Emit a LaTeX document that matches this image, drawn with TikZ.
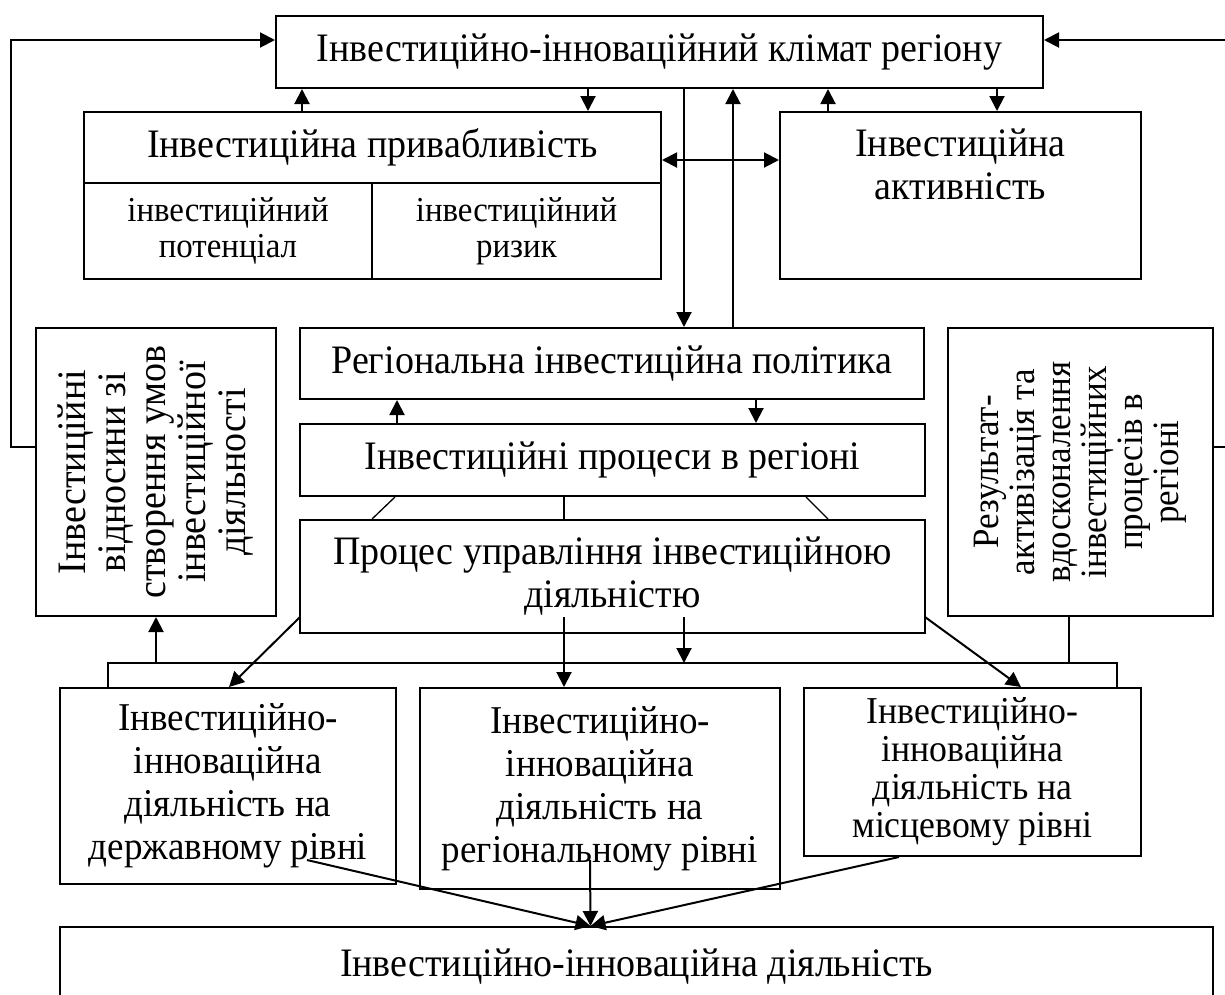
\documentclass[tikz,border=0pt]{standalone}
\usepackage{fontspec}
\setmainfont{Liberation Serif}[FakeStretch=0.94]
\usetikzlibrary{arrows.meta,calc}
\tikzset{
  box/.style={draw,line width=2pt,inner sep=0pt,align=center},
  bigtxt/.style={font=\fontsize{40.4}{43}\selectfont},
  smalltxt/.style={font=\fontsize{35}{36}\selectfont},
  lowtxt/.style={font=\fontsize{39.4}{43}\selectfont},
  vtxt/.style={rotate=90,align=center,inner sep=0pt},
  arr/.style={line width=2pt,-{Triangle[length=15pt,width=15pt]}},
  dblarr/.style={line width=2pt,{Triangle[length=15pt,width=15pt]}-{Triangle[length=15pt,width=15pt]}},
  link/.style={line width=1.3pt}
}
\begin{document}
\begin{tikzpicture}[x=1pt,y=-1pt]
    \useasboundingbox (0,0) rectangle (1225,994);
    % top
    \node[box,bigtxt,minimum width=767,minimum height=72] (clim) at (659.5,52) {Інвестиційно-інноваційний клімат регіону};
    \node[box,bigtxt,minimum width=577,minimum height=71] (attr) at (372.5,147.5) {Інвестиційна привабливість};
    \node[box,smalltxt,minimum width=288,minimum height=96] (pot) at (228,231) {інвестиційний\\потенціал};
    \node[box,smalltxt,minimum width=289,minimum height=96] (risk) at (516.5,231) {інвестиційний\\ризик};
    \node[box,minimum width=361,minimum height=167] (act) at (960.5,195.5) {};
    \node[bigtxt,align=center,inner sep=0pt,anchor=north] (acttxt) at ([yshift=-18]act.north) {Інвестиційна\\активність};
    % middle
    \node[box,bigtxt,minimum width=624,minimum height=71] (pol) at (612,363.5) {Регіональна інвестиційна політика};
    \node[box,bigtxt,minimum width=625,minimum height=72] (proc) at (612.5,460) {Інвестиційні процеси в регіоні};
    \node[box,bigtxt,minimum width=625,minimum height=113] (mgmt) at (612.5,576.5) {Процес управління інвестиційною\\діяльністю};
    \node[box,minimum width=240,minimum height=288] (rel) at (156,472) {};
    \node[vtxt,font=\fontsize{40.4}{40}\selectfont] (reltxt) at (rel) {Інвестиційні\\відносини зі\\створення умов\\інвестиційної\\діяльності};
    \node[box,minimum width=265,minimum height=288] (res) at (1080.5,472) {};
    \node[vtxt,font=\fontsize{37.2}{36}\selectfont] (restxt) at (res) {Результат-\\активізація та\\вдосконалення\\інвестиційних\\процесів в\\регіоні};
    % bottom
    \node[box,lowtxt,minimum width=336,minimum height=196] (st) at (228,786) {Інвестиційно-\\інноваційна\\діяльність на\\державному рівні};
    \node[box,lowtxt,minimum width=360,minimum height=201] (reg) at (600,788.5) {Інвестиційно-\\інноваційна\\діяльність на\\регіональному рівні};
    \node[box,font=\fontsize{38}{38}\selectfont,minimum width=337,minimum height=168] (loc) at (972.5,772) {Інвестиційно-\\інноваційна\\діяльність на\\місцевому рівні};
    \node[box,bigtxt,minimum width=1153,minimum height=80] (iid) at (636.5,967) {Інвестиційно-інноваційна діяльність};

    % x positions of vertical links
    \coordinate (x1) at (302,0);
    \coordinate (x2) at (588,0);
    \coordinate (x3) at (828,0);
    \coordinate (x4) at (997,0);
    \coordinate (x5) at (684,0);
    \coordinate (x6) at (733,0);
    \coordinate (x7) at (397,0);
    \coordinate (x8) at (756,0);
    \coordinate (x9) at (564,0);
    \coordinate (yd) at (0,160);
    \coordinate (bl) at (108,663);
    \coordinate (br) at (1117,663);
    \coordinate (bu) at (156,663);
    \coordinate (bv) at (1069,663);
    \coordinate (m1) at (564,617);
    \coordinate (m2) at (684,617);
    \coordinate (d1) at (300,617);
    \coordinate (d2) at (925,617);
    \coordinate (b1) at (307,860);
    \coordinate (b2) at (590,860);

    \draw[arr] (x1 |- attr.north) -- (x1 |- clim.south);
    \draw[arr] (x2 |- clim.south) -- (x2 |- attr.north);
    \draw[arr] (x3 |- act.north) -- (x3 |- clim.south);
    \draw[arr] (x4 |- clim.south) -- (x4 |- act.north);
    \draw[arr] (x5 |- clim.south) -- (x5 |- pol.north);
    \draw[arr] (x6 |- pol.north) -- (x6 |- clim.south);
    \draw[dblarr] (yd -| attr.east) -- (yd -| act.west);
    \draw[arr] (x7 |- proc.north) -- (x7 |- pol.south);
    \draw[arr] (x8 |- pol.south) -- (x8 |- proc.north);
    \draw[link] ([xshift=96]proc.south west) -- ([xshift=73]mgmt.north west);
    \draw[link] (x9 |- proc.south) -- (x9 |- mgmt.north);
    \draw[link] ([xshift=-120]proc.south east) -- ([xshift=-98]mgmt.north east);
    % bus under the management box
    \draw[line width=1.6pt] (bl |- st.north) -- (bl) -- (br) -- (br |- loc.north);
    \draw[line width=1.6pt] (bv |- res.south) -- (bv);
    \draw[arr] (bu) -- (bu |- rel.south);
    \draw[arr] (m1) -- (m1 |- reg.north);
    \draw[arr] (m2) -- (m2 |- bl);
    \draw[arr] (d1) -- ([xshift=1]st.north);
    \draw[arr] (d2) -- ([xshift=48.5]loc.north);
    % into the bottom box
    \draw[arr] (b1) -- ([xshift=-46]iid.north);
    \draw[arr] (b2) -- ([xshift=-46]iid.north);
    \draw[arr] ([xshift=-73.5]loc.south) -- ([xshift=-46]iid.north);
    % feedback loops
    \draw[arr] ([yshift=25]rel.west) -- ++(-24,0) |- ([yshift=12]clim.west);
    \draw[arr] ([yshift=25]res.east) -- ++(15,0) |- ([yshift=12]clim.east);
\end{tikzpicture}
\end{document}
